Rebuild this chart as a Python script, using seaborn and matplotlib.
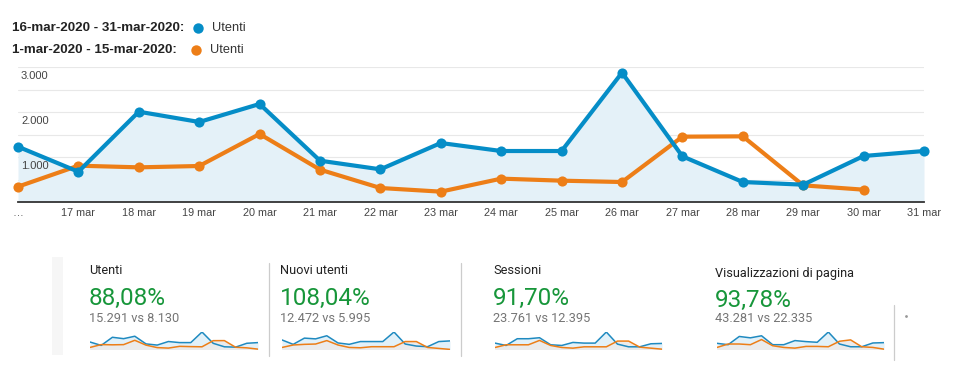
import matplotlib
matplotlib.use("Agg")
import matplotlib.pyplot as plt
import seaborn as sns
import pandas as pd
from matplotlib.patches import Rectangle

# --- dati (Utenti giornalieri) ---
giorni = ["16 mar", "17 mar", "18 mar", "19 mar", "20 mar", "21 mar", "22 mar", "23 mar",
          "24 mar", "25 mar", "26 mar", "27 mar", "28 mar", "29 mar", "30 mar", "31 mar"]
tick_labels = ["…"] + giorni[1:]
utenti_corrente = [1229, 673, 2007, 1778, 2178, 918, 726, 1311,
                   1133, 1133, 2874, 1015, 444, 385, 1022, 1133]
utenti_precedente = [341, 807, 770, 800, 1511, 719, 311, 230,
                     519, 474, 444, 1452, 1459, 370, 274]
y_ticks = [1000, 2000, 3000]
y_labels = ["1.000", "2.000", "3.000"]

periodo_corrente = "16-mar-2020 - 31-mar-2020:"
periodo_precedente = "1-mar-2020 - 15-mar-2020:"

# --- riquadri riepilogo ---
kpi_titoli = ["Utenti", "Nuovi utenti", "Sessioni", "Visualizzazioni di pagina"]
kpi_percent = ["88,08%", "108,04%", "91,70%", "93,78%"]
kpi_confronto = ["15.291 vs 8.130", "12.472 vs 5.995", "23.761 vs 12.395", "43.281 vs 22.335"]

# sparkline (stime dai mini grafici)
spark_corrente = [
    utenti_corrente,
    [890, 480, 1060, 990, 1280, 610, 480, 740, 740, 740, 1630, 510, 320, 260, 740, 800],
    [1330, 840, 2240, 2240, 2450, 980, 840, 1470, 1330, 1330, 3640, 1120, 560, 560, 1190, 1260],
    [2340, 1820, 4940, 4420, 5200, 1820, 1820, 3380, 2990, 2730, 6630, 2080, 1040, 1040, 2470, 2600],
]
spark_precedente = [
    utenti_precedente + [60],
    [190, 420, 480, 510, 830, 420, 190, 160, 260, 260, 260, 740, 740, 190, 100, 10],
    [420, 980, 980, 980, 1890, 840, 420, 280, 560, 560, 560, 1750, 1750, 490, 280, 70],
    [780, 2080, 2080, 1820, 3770, 1430, 780, 520, 1170, 1170, 1040, 3120, 3640, 1040, 780, 130],
]

BLU = "#058dc7"
ARANCIO = "#ed7e17"
VERDE = "#17963a"

W, H = 959, 384
sns.set_theme(style="white")
plt.rcParams['font.family'] = ['Liberation Sans', 'DejaVu Sans']

fig = plt.figure(figsize=(W / 100, H / 100), dpi=100)


def px_axes(x0, y0, x1, y1):
    # rettangolo in pixel (origine in alto a sinistra)
    return fig.add_axes([x0 / W, 1 - y1 / H, (x1 - x0) / W, (y1 - y0) / H])


# livello per testi e decorazioni in pixel
over = fig.add_axes([0, 0, 1, 1], zorder=5)
over.set_xlim(0, W)
over.set_ylim(H, 0)
over.axis("off")

# --- grafico principale ---
ax = px_axes(18, 67, 924, 202)
df_c = pd.DataFrame({"pos": range(len(utenti_corrente)), "val": utenti_corrente})
df_p = pd.DataFrame({"pos": range(len(utenti_precedente)), "val": utenti_precedente})

ax.fill_between(df_c["pos"], df_c["val"], 0, color="#e4f1f8", zorder=1, linewidth=0)
for v in range(500, 3001, 500):
    ax.axhline(v, color="#e8e8e8", lw=0.8, zorder=0)
sns.lineplot(data=df_c, x="pos", y="val", ax=ax, color=BLU, lw=3.0, marker="o",
             markersize=7.3, markeredgewidth=0, zorder=4, clip_on=False)
sns.lineplot(data=df_p, x="pos", y="val", ax=ax, color=ARANCIO, lw=3.0, marker="o",
             markersize=7.3, markeredgewidth=0, zorder=3, clip_on=False)
ax.set_xlim(0, len(giorni) - 1)
ax.set_ylim(0, 3000)
ax.set_xlabel("")
ax.set_ylabel("")
ax.set_yticks([])
ax.set_xticks(range(len(tick_labels)))
ax.set_xticklabels(tick_labels, fontsize=7.8, color="#444444")
ax.tick_params(axis="x", length=0, pad=4)
for s in ["top", "right", "left"]:
    ax.spines[s].set_visible(False)
ax.spines["bottom"].set_color("#333333")
ax.spines["bottom"].set_linewidth(1.3)
ax.set_facecolor("none")
for v, lab in zip(y_ticks, y_labels):
    ax.annotate(lab, xy=(0, v), xycoords=ax.get_yaxis_transform(), xytext=(2.2, -6.5),
                textcoords="offset points", va="center", ha="left", fontsize=8, color="#444444")

# --- legenda ---
for yy, testo, col, xm in [(28, periodo_corrente, BLU, 198), (50, periodo_precedente, ARANCIO, 196)]:
    over.text(12, yy, testo, fontsize=9.6, fontweight="bold", color="#222222", va="center", ha="left")
    over.plot([xm], [yy], "o", color=col, markersize=7.5, markeredgewidth=0)
    over.text(xm + 14, yy, "Utenti", fontsize=9.2, color="#333333", va="center", ha="left")

# --- riquadri riepilogo ---
over.add_patch(Rectangle((52, 257), 11, 98, color="#f6f6f6", lw=0))
kpi_x = [89, 280, 493, 715]
kpi_dy = [0, 0, 0, 2]
spark_x = [(90, 258), (282, 450), (495, 662), (717, 884)]
for i in range(4):
    x = kpi_x[i]
    d = kpi_dy[i]
    over.text(x, 271 + d, kpi_titoli[i], fontsize=9.2, color="#222222", va="center", ha="left",
              family=["Roboto", "DejaVu Sans"])
    over.text(x, 298 + d, kpi_percent[i], fontsize=17.5, color=VERDE, va="center", ha="left",
              family=["Roboto", "DejaVu Sans"])
    over.text(x, 319, kpi_confronto[i], fontsize=9.2, color="#757575", va="center", ha="left",
              family=["Roboto", "DejaVu Sans"])

    sx = px_axes(spark_x[i][0], 332, spark_x[i][1], 349.5)
    n = len(spark_corrente[i])
    pos = list(range(n))
    sx.fill_between(pos, spark_corrente[i], 0, color="#e2f1f9", lw=0)
    sx.fill_between(pos, spark_precedente[i], 0, color="#ebebeb", lw=0)
    sns.lineplot(x=pos, y=spark_corrente[i], ax=sx, color="#1f8ac0", lw=1.1)
    sns.lineplot(x=pos, y=spark_precedente[i], ax=sx, color=ARANCIO, lw=1.1)
    sx.set_xlim(0, n - 1)
    sx.set_ylim(0, max(max(spark_corrente[i]), max(spark_precedente[i])))
    sx.axis("off")

# separatori verticali
for xd, y0, y1 in [(269, 263, 356), (461, 263, 356), (894, 305, 360)]:
    over.plot([xd, xd], [y0, y1], color="#cccccc", lw=0.9)
over.plot([906], [316], "o", color="#999999", markersize=1)

fig.savefig("out.png", dpi=100)
